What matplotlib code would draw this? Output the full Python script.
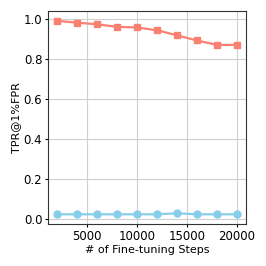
import matplotlib
matplotlib.use("Agg")
import matplotlib.pyplot as plt

steps = [2000, 4000, 6000, 8000, 10000, 12000, 14000, 16000, 18000, 20000]
tpr_top = [0.990, 0.981, 0.973, 0.960, 0.957, 0.943, 0.918, 0.892, 0.870, 0.870]
tpr_bottom = [0.025, 0.025, 0.025, 0.025, 0.025, 0.025, 0.030, 0.025, 0.025, 0.025]

plt.rcParams["font.size"] = 8.5

fig, ax = plt.subplots(figsize=(2.66, 2.66), dpi=100)
ax.plot(steps, tpr_top, color="salmon", marker="s", markersize=5, linewidth=1.6)
ax.plot(steps, tpr_bottom, color="skyblue", marker="o", markersize=5, linewidth=1.6)
ax.set_xlabel("# of Fine-tuning Steps", fontsize=8, labelpad=2)
ax.set_ylabel("TPR@1%FPR", fontsize=8, labelpad=2)
ax.set_xticks([5000, 10000, 15000, 20000])
ax.tick_params(length=2, pad=2, labelsize=8.5)
ax.grid(True, color="#d0d0d0", linewidth=0.8)
ax.set_axisbelow(True)
for s in ax.spines.values():
    s.set_color("#333333")
fig.subplots_adjust(left=0.18, right=0.925, top=0.958, bottom=0.158)
fig.savefig("out.png", dpi=100)
